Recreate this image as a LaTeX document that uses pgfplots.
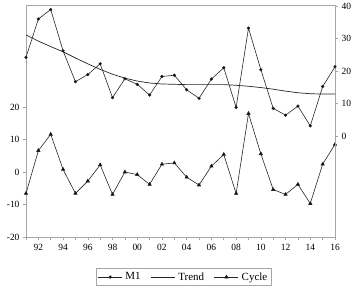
\documentclass[border=0pt]{standalone}
\usepackage{fontspec}
\setmainfont{Liberation Serif}
\usepackage{pgfplots}
\pgfplotsset{compat=1.18}
\begin{document}
\begin{tikzpicture}
\useasboundingbox (-26bp,-51bp) rectangle (330bp,237bp);
\pgfplotsset{
  common/.style={
    at={(0,0)}, anchor=south west,
    scale only axis, width=309bp, height=232bp,
    xmin=1991, xmax=2016,
    tick align=outside,
    major tick length=3bp, minor tick length=3bp,
    axis line style={gray!70, line width=0.6bp},
    tick style={gray!70, line width=0.5bp},
    tick label style={font=\fontsize{9.5}{11}\selectfont, text=black},
    every axis plot/.append style={line width=0.6bp, black!85},
  },
  m1style/.style={mark=*, mark size=1.3bp, mark options={solid, fill=black}},
  cystyle/.style={mark=triangle*, mark size=1.9bp, mark options={solid, fill=black}},
}
\begin{axis}[common,
  ymin=-20, ymax=51.4,
  xtick pos=lower, ytick pos=left,
  xtick={1992,1994,...,2016},
  xticklabels={92,94,96,98,00,02,04,06,08,10,12,14,16},
  minor xtick={1991,...,2016},
  ytick={-20,-10,0,10,20},
  yticklabels={-20,-10,0,10,20},
  xticklabel style={yshift=-1bp},
]
\addplot[cystyle] coordinates {
(1991,-6.6) (1992,6.6) (1993,11.6) (1994,0.8) (1995,-6.6) (1996,-2.8)
(1997,2.2) (1998,-6.9) (1999,0.0) (2000,-0.8) (2001,-3.8) (2002,2.4)
(2003,2.8) (2004,-1.6) (2005,-4.0) (2006,1.8) (2007,5.4) (2008,-6.6)
(2009,18.0) (2010,5.6) (2011,-5.4) (2012,-6.9) (2013,-3.8) (2014,-9.7)
(2015,2.4) (2016,8.5)};
\end{axis}
\begin{axis}[common,
  ymin=-31.08, ymax=40.3,
  axis x line=none, axis y line*=right,
  ytick={0,10,20,30,40},
  yticklabels={0,10,20,30,40},
  legend image code/.code={\draw[mark repeat=2,mark phase=2,#1] plot coordinates {(0bp,0bp) (12bp,0bp) (24bp,0bp)};},
  legend style={at={(0.51,-0.135)}, anchor=north, draw=gray!70,
    font=\fontsize{11}{13}\selectfont, legend columns=3,
    inner sep=2bp,
    /tikz/every odd column/.append style={column sep=1bp},
    /tikz/every even column/.append style={column sep=8bp}},
  legend cell align=left,
]
\addplot[m1style] coordinates {
(1991,24.2) (1992,36.0) (1993,38.9) (1994,26.2) (1995,16.7) (1996,18.9)
(1997,22.2) (1998,11.8) (1999,17.6) (2000,15.9) (2001,12.6) (2002,18.3)
(2003,18.7) (2004,14.2) (2005,11.6) (2006,17.5) (2007,21.0) (2008,8.8)
(2009,33.2) (2010,20.4) (2011,8.5) (2012,6.4) (2013,9.2) (2014,3.1)
(2015,15.2) (2016,21.3)};
\addlegendentry{M1}
\addplot[no marks, line width=0.7bp] coordinates {
(1991,31.1) (1992,29.2) (1993,27.5) (1994,25.9) (1995,24.0) (1996,22.2)
(1997,20.5) (1998,19.0) (1999,17.8) (2000,16.9) (2001,16.3) (2002,16.0)
(2003,15.9) (2004,15.8) (2005,15.8) (2006,15.8) (2007,15.8) (2008,15.6)
(2009,15.3) (2010,14.9) (2011,14.4) (2012,13.8) (2013,13.3) (2014,13.0)
(2015,12.9) (2016,12.9)};
\addlegendentry{Trend}
\addlegendimage{cystyle, line width=0.6bp, black!85}
\addlegendentry{Cycle}
\end{axis}
\end{tikzpicture}
\end{document}
